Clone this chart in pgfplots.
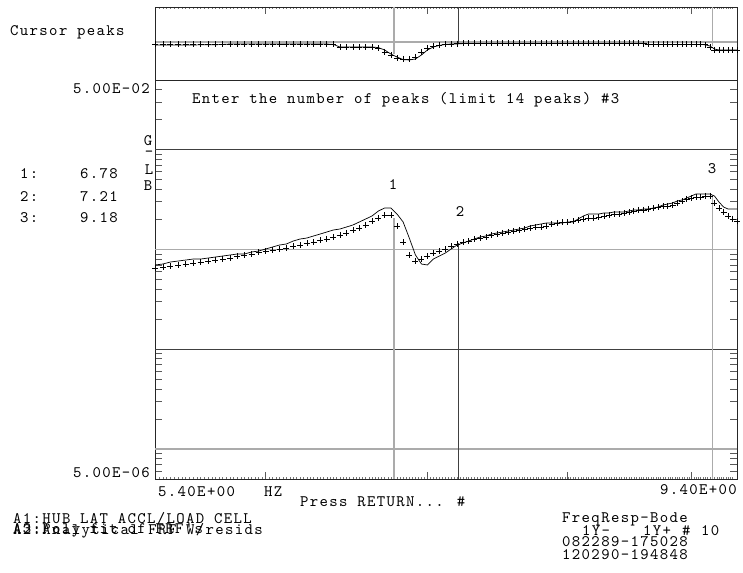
\documentclass[border=0pt]{standalone}
\usepackage{fontspec}
\usepackage{pgfplots}
\usepackage{pgfplotstable}
\pgfplotsset{compat=1.18}
\newfontfamily\lmm{lmmono10-regular.otf}[LetterSpace=8.5]
\newcommand\mono{\lmm\fontsize{16}{16}\selectfont\spaceskip=9.76pt\relax}

\pgfplotstableread{
f magm magf phm phf
5.40 6.52e-4 6.99e-4 -12 -15
5.44 6.67e-4 7.15e-4 -12 -15
5.48 6.83e-4 7.49e-4 -12 -15
5.52 6.99e-4 7.66e-4 -12 -15
5.56 7.15e-4 7.84e-4 -12 -15
5.60 7.32e-4 8.02e-4 -12 -15
5.64 7.49e-4 8.02e-4 -12 -14
5.68 7.66e-4 8.21e-4 -12 -14
5.72 7.84e-4 8.40e-4 -12 -14
5.76 8.02e-4 8.60e-4 -11 -12
5.80 8.21e-4 8.80e-4 -10 -10
5.84 8.60e-4 9.01e-4 -10 -10
5.88 8.80e-4 9.01e-4 -10 -10
5.92 9.01e-4 9.43e-4 -10 -10
5.96 9.43e-4 9.65e-4 -10 -10
6.00 9.65e-4 1.011e-3 -10 -10
6.04 9.88e-4 1.059e-3 -10 -10
6.08 1.011e-3 1.109e-3 -10 -10
6.12 1.034e-3 1.135e-3 -10 -10
6.16 1.083e-3 1.216e-3 -10 -10
6.20 1.109e-3 1.273e-3 -10 -10
6.24 1.161e-3 1.303e-3 -10 -10
6.28 1.188e-3 1.365e-3 -10 -10
6.32 1.244e-3 1.429e-3 -10 -10
6.36 1.273e-3 1.497e-3 -10 -10
6.40 1.334e-3 1.568e-3 -12 -12
6.44 1.397e-3 1.604e-3 -25 -25
6.48 1.463e-3 1.680e-3 -25 -25
6.52 1.568e-3 1.760e-3 -25 -25
6.56 1.642e-3 1.886e-3 -25 -25
6.60 1.760e-3 2.021e-3 -25 -25
6.64 1.930e-3 2.166e-3 -27 -25
6.68 2.068e-3 2.431e-3 -32 -28
6.72 2.216e-3 2.605e-3 -50 -40
6.76 2.216e-3 2.605e-3 -65 -60
6.80 1.719e-3 2.268e-3 -80 -75
6.84 1.188e-3 1.886e-3 -85 -88
6.88 8.80e-4 1.303e-3 -85 -90
6.92 7.66e-4 8.80e-4 -75 -85
6.96 8.02e-4 7.15e-4 -50 -65
7.00 8.60e-4 6.99e-4 -30 -40
7.04 9.22e-4 8.02e-4 -20 -25
7.08 9.65e-4 8.60e-4 -15 -17
7.12 1.011e-3 9.22e-4 -12 -12
7.16 1.083e-3 1.011e-3 -10 -10
7.20 1.135e-3 1.109e-3 -8 -10
7.24 1.188e-3 1.161e-3 -7 -8
7.28 1.216e-3 1.216e-3 -7 -8
7.32 1.273e-3 1.273e-3 -7 -8
7.36 1.303e-3 1.334e-3 -7 -8
7.40 1.334e-3 1.365e-3 -7 -8
7.44 1.397e-3 1.429e-3 -7 -8
7.48 1.429e-3 1.463e-3 -7 -8
7.52 1.463e-3 1.497e-3 -7 -8
7.56 1.497e-3 1.532e-3 -7 -8
7.60 1.532e-3 1.568e-3 -7 -8
7.64 1.568e-3 1.604e-3 -7 -8
7.68 1.604e-3 1.642e-3 -7 -8
7.72 1.642e-3 1.719e-3 -7 -8
7.76 1.680e-3 1.760e-3 -7 -8
7.80 1.680e-3 1.801e-3 -7 -8
7.84 1.719e-3 1.843e-3 -7 -8
7.88 1.801e-3 1.843e-3 -7 -8
7.92 1.843e-3 1.843e-3 -7 -8
7.96 1.886e-3 1.843e-3 -7 -8
8.00 1.886e-3 1.886e-3 -7 -8
8.04 1.930e-3 1.886e-3 -7 -8
8.08 1.975e-3 2.021e-3 -7 -8
8.12 2.021e-3 2.166e-3 -7 -8
8.16 2.068e-3 2.268e-3 -7 -8
8.20 2.068e-3 2.268e-3 -7 -8
8.24 2.116e-3 2.268e-3 -7 -8
8.28 2.166e-3 2.321e-3 -7 -8
8.32 2.216e-3 2.321e-3 -7 -8
8.36 2.268e-3 2.375e-3 -7 -8
8.40 2.268e-3 2.375e-3 -7 -8
8.44 2.321e-3 2.375e-3 -7 -8
8.48 2.375e-3 2.431e-3 -7 -8
8.52 2.431e-3 2.488e-3 -7 -8
8.56 2.488e-3 2.488e-3 -7 -8
8.60 2.488e-3 2.546e-3 -8 -8
8.64 2.546e-3 2.546e-3 -12 -12
8.68 2.605e-3 2.605e-3 -12 -12
8.72 2.666e-3 2.666e-3 -12 -12
8.76 2.728e-3 2.792e-3 -12 -12
8.80 2.728e-3 2.857e-3 -12 -12
8.84 2.792e-3 2.924e-3 -12 -12
8.88 2.924e-3 3.062e-3 -12 -12
8.92 3.062e-3 3.134e-3 -12 -12
8.96 3.207e-3 3.282e-3 -12 -12
9.00 3.282e-3 3.437e-3 -12 -12
9.04 3.358e-3 3.599e-3 -12 -12
9.08 3.358e-3 3.599e-3 -12 -12
9.12 3.437e-3 3.599e-3 -14 -14
9.16 3.437e-3 3.599e-3 -25 -20
9.20 2.924e-3 3.437e-3 -40 -35
9.24 2.605e-3 2.992e-3 -40 -40
9.28 2.375e-3 2.666e-3 -40 -40
9.32 2.166e-3 2.546e-3 -40 -40
9.36 2.021e-3 2.546e-3 -40 -40
9.40 1.930e-3 2.546e-3 -40 -40
}\data

\pgfplotsset{
  meas/.style={black, only marks, mark=+, mark size=3pt, mark options={line width=0.6pt}},
  fit/.style={black, line width=0.7pt, no markers},
  darkl/.style={black!75, line width=0.8pt},
  grayl/.style={black!33, line width=1.3pt},
}

\begin{document}
\begin{tikzpicture}[every node/.style={inner sep=0pt, font=\mono}]
\path[use as bounding box] (0pt,0pt) rectangle (743pt,-572pt);
\fill[white] (0pt,0pt) rectangle (743pt,-572pt);

% magnitude panel
\begin{axis}[scale only axis, width=582pt, height=399pt,
  at={(155pt,-479pt)}, anchor=south west,
  xmode=log, xmin=5.4, xmax=9.4,
  ymode=log, ymin=5e-6, ymax=5e-2,
  axis line style={black!85, line width=0.8pt},
  xtick={6,7,8,9}, xticklabels={},
  minor xtick={5.42,5.44,...,9.38},
  ytick={6e-6,7e-6,8e-6,9e-6,2e-5,3e-5,4e-5,5e-5,6e-5,7e-5,8e-5,9e-5,2e-4,3e-4,4e-4,5e-4,6e-4,7e-4,8e-4,9e-4,2e-3,3e-3,4e-3,5e-3,6e-3,7e-3,8e-3,9e-3,2e-2,3e-2,4e-2},
  yticklabels={}, minor y tick num=0,
  major tick length=7.5pt, minor tick length=1.6pt,
  major tick style={black!65, line width=0.8pt},
  minor tick style={black!55, line width=0.5pt},
  xtick pos=left, ytick pos=both]
\addplot[darkl] coordinates {(5.4,1e-2) (9.4,1e-2)};
\addplot[grayl] coordinates {(5.4,1e-3) (9.4,1e-3)};
\addplot[darkl] coordinates {(5.4,1e-4) (9.4,1e-4)};
\addplot[grayl] coordinates {(5.4,1e-5) (9.4,1e-5)};
\addplot[grayl] coordinates {(6.78,5e-6) (6.78,2.07e-3)};
\addplot[darkl] coordinates {(7.21,5e-6) (7.21,1.16e-3)};
\addplot[grayl] coordinates {(9.18,5e-6) (9.18,3.52e-3)};
\addplot[fit] table[x=f, y=magf] {\data};
\addplot[meas] table[x=f, y=magm] {\data};
\end{axis}

% phase panel
\begin{axis}[scale only axis, width=582pt, height=73pt,
  at={(155pt,-80pt)}, anchor=south west,
  xmode=log, xmin=5.4, xmax=9.4,
  ymin=-190, ymax=175,
  axis line style={black!85, line width=0.8pt},
  xtick={6,7,8,9}, xticklabels={},
  minor xtick={5.42,5.44,...,9.38},
  ytick=\empty,
  major tick length=7.5pt, minor tick length=1.6pt,
  major tick style={black!65, line width=0.8pt},
  minor tick style={black!55, line width=0.5pt},
  xtick pos=right]
\addplot[grayl] coordinates {(5.4,0) (9.4,0)};
\addplot[grayl] coordinates {(6.78,175) (6.78,-60)};
\addplot[darkl] coordinates {(7.21,175) (7.21,-10)};
\addplot[grayl] coordinates {(9.18,175) (9.18,-20)};
\addplot[fit] table[x=f, y=phf] {\data};
\addplot[meas] table[x=f, y=phm] {\data};
\end{axis}

% texts
\node[anchor=west] at (10pt,-32pt) {Cursor peaks};
\node[anchor=east] at (150pt,-89pt) {5.00E-02};
\node[anchor=west] at (192pt,-100pt) {Enter the number of peaks (limit 14 peaks) \#3};
\node at (148pt,-141pt) {G};
\node at (149pt,-154pt) {-};
\node at (149pt,-170pt) {L};
\node at (148pt,-186pt) {B};
\node[anchor=west] at (20pt,-174pt) {1:};
\node[anchor=west] at (80pt,-174pt) {6.78};
\node[anchor=west] at (20pt,-197pt) {2:};
\node[anchor=west] at (80pt,-197pt) {7.21};
\node[anchor=west] at (20pt,-218pt) {3:};
\node[anchor=west] at (80pt,-218pt) {9.18};
\node at (393pt,-185pt) {1};
\node at (460pt,-212pt) {2};
\node at (712pt,-169pt) {3};
\node[anchor=east] at (150pt,-473pt) {5.00E-06};
\node[anchor=west] at (158pt,-492pt) {5.40E+00};
\node[anchor=west] at (264pt,-492pt) {HZ};
\node[anchor=east] at (737pt,-490pt) {9.40E+00};
\node[anchor=west] at (300pt,-502pt) {Press RETURN... \#};
\node[anchor=west] at (13pt,-519pt) {A1:HUB LAT ACCL/LOAD CELL};
\node[anchor=west] at (13pt,-530.5pt) {A2:Analytical FRF W/resids};
\node[anchor=west] at (13pt,-530.5pt) {A3:Poly fit of FRF's};
\node[anchor=west] at (562pt,-519pt) {FreqResp-Bode};
\node[anchor=west] at (582pt,-530.5pt) {1Y-};
\node[anchor=west] at (643pt,-530.5pt) {1Y+};
\node[anchor=west] at (682pt,-530.5pt) {\#};
\node[anchor=west] at (701pt,-530.5pt) {10};
\node[anchor=west] at (562pt,-542pt) {082289-175028};
\node[anchor=west] at (562pt,-555pt) {120290-194848};
\end{tikzpicture}
\end{document}
